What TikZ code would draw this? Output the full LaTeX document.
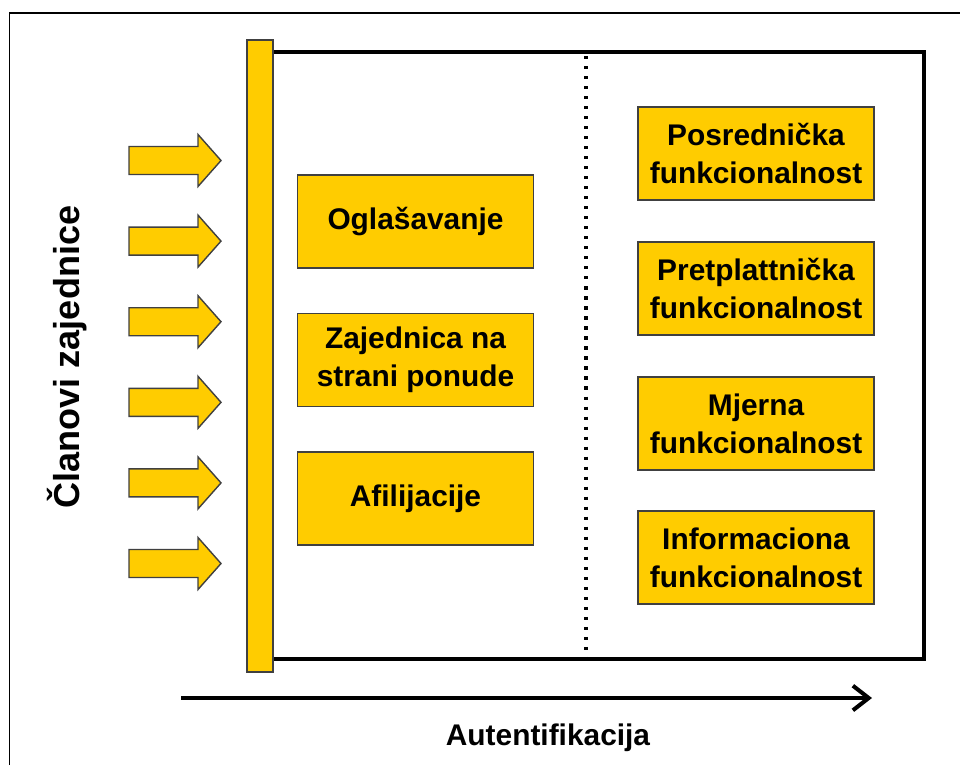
\documentclass[tikz,border=0pt]{standalone}
\usepackage{fontspec}
\setmainfont{Liberation Sans}
\usetikzlibrary{arrows.meta,positioning}

\definecolor{zuta}{HTML}{FFCC00}
\definecolor{rub}{HTML}{404040}

\tikzset{
  kutija/.style={draw=rub, fill=zuta, line width=0.8pt, align=center,
    minimum width=4.72cm, minimum height=1.86cm, inner sep=0pt,
    font=\fontsize{17}{21.5}\selectfont\bfseries},
  blokstrelica/.style={draw=rub, fill=zuta, line width=0.8pt, line join=miter},
}

\begin{document}
\begin{tikzpicture}[x=0.02cm, y=-0.02cm]
\useasboundingbox (0,0) rectangle (960,765);

%frame
\draw[line width=1.1pt] (9.5,765) |- (960,13);

%main box
\draw[line width=2.5pt] (260,52) rectangle (924,659);
\draw[line width=1.8pt, line cap=butt, dash pattern=on 1.8pt off 3.9pt] (586,56) -- (586,659);

%bar
\fill[zuta, draw=rub, line width=0.8pt] (247,40) rectangle (273,672);

%block arrows
\foreach \i in {0,...,5}{
  \pgfmathsetmacro{\yy}{160.5+80.6*\i}
  \draw[blokstrelica] (129,\yy-14) -- (198,\yy-14) -- (198,\yy-26) -- (221,\yy)
    -- (198,\yy+26) -- (198,\yy+14) -- (129,\yy+14) -- cycle;
}

%left column
\node[kutija] (oglas) at (415.5,221.5) {Oglašavanje};
\node[kutija] (zajed) at (415.5,360) {Zajednica na\\strani ponude};
\node[kutija] (afil) at (415.5,498.5) {Afilijacije};

%right column
\node[kutija] (posred) at (756,153.5) {Posrednička\\funkcionalnost};
\node[kutija] (pretpl) at (756,288.5) {Pretplattnička\\funkcionalnost};
\node[kutija] (mjer) at (756,423.5) {Mjerna\\funkcionalnost};
\node[kutija] (info) at (756,557.5) {Informaciona\\funkcionalnost};

%labels
\node[rotate=90, font=\fontsize{20.5}{24}\selectfont\bfseries] (clanovi) at (67,357) {Članovi zajednice};
\node[font=\fontsize{17}{20}\selectfont\bfseries] (auten) at (548,738) {Autentifikacija};

\coordinate (os1) at (181,698);
\coordinate (os2) at (872,698);
\draw[line width=2.3pt, -{Straight Barb[length=9pt, width=14pt]}] (os1) -- (os2);

\end{tikzpicture}
\end{document}
